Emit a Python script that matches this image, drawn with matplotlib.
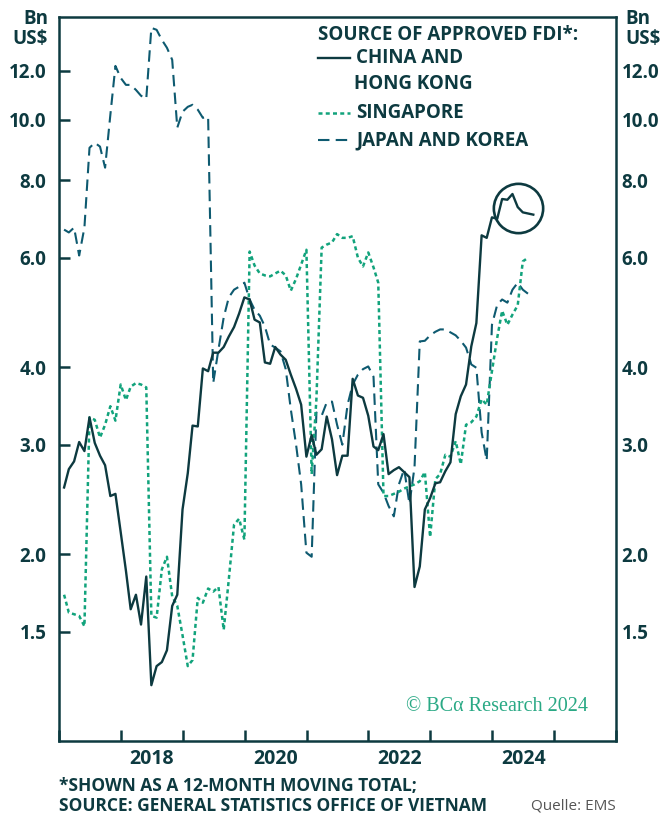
"""
Vietnam approved FDI by source, 12-month moving total (log scale)
"""
import matplotlib
matplotlib.use("Agg")
import matplotlib.pyplot as plt
import matplotlib.dates as mdates
from matplotlib.lines import Line2D
from matplotlib.ticker import FixedLocator, NullLocator
import pandas as pd

# data, Bn US$, monthly from Jan 2017
china_hk = [2.56, 2.74, 2.82, 3.03, 2.93, 3.32, 3.02, 2.88, 2.78, 2.48,
            2.50, 2.17, 1.88, 1.63, 1.72, 1.54, 1.84, 1.23, 1.32, 1.34,
            1.40, 1.65, 1.72, 2.36, 2.70, 3.22, 3.21, 3.98, 3.94, 4.22,
            4.22, 4.31, 4.48, 4.64, 4.88, 5.18, 5.14, 4.77, 4.72, 4.07,
            4.05, 4.31, 4.19, 4.11, 3.89, 3.69, 3.48, 2.87, 3.11, 2.89,
            2.95, 3.33, 3.06, 2.68, 2.88, 2.88, 3.83, 3.60, 3.57, 3.34,
            2.98, 2.94, 3.12, 2.69, 2.73, 2.76, 2.71, 2.66, 1.77, 1.91,
            2.36, 2.46, 2.60, 2.61, 2.72, 2.81, 3.36, 3.59, 3.75, 4.32,
            4.71, 6.52, 6.46, 6.97, 6.93, 7.46, 7.44, 7.60, 7.24, 7.10,
            7.07, 7.04]
singapore = [1.72, 1.61, 1.60, 1.59, 1.53, 3.32, 3.29, 3.08, 3.23, 3.46,
             3.28, 3.75, 3.54, 3.72, 3.77, 3.75, 3.71, 1.59, 1.58, 1.89,
             1.98, 1.71, 1.65, 1.48, 1.32, 1.35, 1.70, 1.67, 1.76, 1.74,
             1.77, 1.51, 1.82, 2.23, 2.28, 2.11, 6.14, 5.83, 5.66, 5.62,
             5.60, 5.66, 5.72, 5.62, 5.31, 5.55, 5.85, 6.18, 2.69, 3.55,
             6.23, 6.30, 6.35, 6.55, 6.46, 6.46, 6.50, 6.00, 5.81, 6.12,
             5.79, 5.47, 2.48, 2.48, 2.50, 2.52, 2.55, 2.57, 2.59, 2.62,
             2.71, 2.13, 2.64, 2.69, 2.89, 2.87, 3.04, 2.79, 3.23, 3.26,
             3.33, 3.55, 3.48, 3.94, 4.46, 4.93, 4.68, 4.86, 5.03, 5.92,
             6.00]
japan_korea = [6.66, 6.59, 6.71, 6.05, 6.71, 9.02, 9.19, 9.06, 8.38, 10.19,
               12.22, 11.69, 11.39, 11.39, 11.18, 10.94, 10.82, 14.07, 13.97, 13.46,
               13.07, 12.50, 9.72, 10.31, 10.50, 10.58, 10.39, 10.08, 10.12, 3.77,
               4.27, 4.81, 5.18, 5.33, 5.39, 5.47, 5.14, 4.95, 4.84, 4.65,
               4.35, 4.30, 4.24, 3.97, 3.42, 3.00, 2.59, 2.01, 1.98, 3.38,
               3.34, 3.51, 3.52, 3.23, 3.00, 3.48, 3.75, 3.89, 3.97, 4.01,
               3.86, 2.59, 2.51, 2.39, 2.30, 2.59, 2.74, 2.41, 2.76, 4.40,
               4.41, 4.50, 4.56, 4.60, 4.60, 4.55, 4.50, 4.41, 4.30, 4.04,
               3.99, 3.14, 2.83, 4.68, 5.04, 5.14, 5.08, 5.33, 5.47, 5.33,
               5.25]

y_ticks = [1.5, 2.0, 3.0, 4.0, 6.0, 8.0, 10.0, 12.0]
year_labels = [2018, 2020, 2022, 2024]

dark = "#0d3a40"
green = "#12a37c"
teal = "#0e5a70"

china_dates = pd.date_range("2017-01-31", periods=len(china_hk), freq="ME")
sing_dates = pd.date_range("2017-01-31", periods=len(singapore), freq="ME")
jk_dates = pd.date_range("2017-01-31", periods=len(japan_korea), freq="ME")

plt.rcParams["font.family"] = ["Open Sans", "DejaVu Sans"]

fig = plt.figure(figsize=(6.65, 8.17), dpi=100)
ax = fig.add_axes([59 / 665, 1 - 741 / 817, 557 / 665, 724 / 817])

ax.plot(jk_dates, japan_korea, color=teal, lw=1.5, linestyle=(0, (5.5, 3)))
ax.plot(sing_dates, singapore, color=green, lw=1.8, linestyle=(0, (1.6, 1.3)))
ax.plot(china_dates, china_hk, color=dark, lw=1.7)

# circle round the latest readings
ax.plot([pd.Timestamp("2024-06-01")], [7.22], marker="o", markersize=35.5,
        markerfacecolor="none", markeredgecolor=dark, markeredgewidth=1.9)

ax.set_yscale("log")
ax.set_ylim(1.0, 14.65)
ax.yaxis.set_major_locator(FixedLocator(y_ticks))
ax.yaxis.set_minor_locator(NullLocator())
ax.set_yticklabels([f"{v:.1f}" for v in y_ticks])

ax.set_xlim(pd.Timestamp("2017-01-01"), pd.Timestamp("2026-01-01"))
ax.xaxis.set_major_locator(mdates.YearLocator())
ax.xaxis.set_major_formatter(plt.NullFormatter())
ax.xaxis.set_minor_locator(FixedLocator(
    [mdates.date2num(pd.Timestamp(f"{y}-07-02")) for y in year_labels]))
ax.xaxis.set_minor_formatter(plt.FixedFormatter([str(y) for y in year_labels]))

for s in ax.spines.values():
    s.set_color(dark)
    s.set_linewidth(1.8)

ax.tick_params(axis="y", which="major", direction="in", length=8, width=1.8,
               color=dark, labelcolor=dark, left=True, right=True,
               labelleft=True, labelright=False, pad=9)
ax.tick_params(axis="x", which="major", direction="in", length=8, width=1.8,
               color=dark)
ax.tick_params(axis="x", which="minor", length=0, pad=6, labelcolor=dark)
for lab in ax.get_yticklabels():
    lab.set_fontsize(13.5)
    lab.set_fontweight("bold")
for lab in ax.get_xticklabels(minor=True):
    lab.set_fontsize(14)
    lab.set_fontweight("bold")

# right hand labels
ax2 = ax.twinx()
ax2.set_yscale("log")
ax2.set_ylim(ax.get_ylim())
ax2.yaxis.set_major_locator(FixedLocator(y_ticks))
ax2.yaxis.set_minor_locator(NullLocator())
ax2.set_yticklabels([f"{v:.1f}" for v in y_ticks], fontsize=13.5,
                    fontweight="bold", color=dark)
ax2.tick_params(axis="y", length=0, pad=4)
for s in ax2.spines.values():
    s.set_visible(False)

fig.text(48 / 665, 1 - 9 / 817, "Bn\nUS$", ha="right", va="top",
         fontsize=13.5, fontweight="bold", color=dark, linespacing=1.0)
fig.text(625 / 665, 1 - 9 / 817, "Bn\nUS$", ha="left", va="top",
         fontsize=13.5, fontweight="bold", color=dark, linespacing=1.0)

# legend
fig.text(318 / 665, 1 - 35 / 817, "SOURCE OF APPROVED FDI*:", ha="left",
         va="center", fontsize=13.5, fontweight="bold", color=dark)
leg_items = [
    ("CHINA AND", 58, dict(color=dark, lw=1.7)),
    ("SINGAPORE", 113, dict(color=green, lw=1.8, linestyle=(0, (1.6, 1.3)))),
    ("JAPAN AND KOREA", 140, dict(color=teal, lw=1.5, linestyle=(0, (5.5, 3)))),
]
for label, ypx, style in leg_items:
    yf = 1 - ypx / 817
    fig.add_artist(Line2D([318 / 665, 350 / 665], [yf, yf], **style))
    fig.text(356 / 665, yf, label, ha="left", va="center", fontsize=13.5,
             fontweight="bold", color=dark)
fig.text(354 / 665, 1 - 84 / 817, "HONG KONG", ha="left", va="center",
         fontsize=13.5, fontweight="bold", color=dark)

ax.text(0.95, 0.048, "\u00a9 BC\u03b1 Research 2024", transform=ax.transAxes,
        ha="right", va="center", fontsize=14.5, color="#2aa985",
        family=["Liberation Serif", "DejaVu Serif"])

fig.text(59 / 665, 1 - 786 / 817, "*SHOWN AS A 12-MONTH MOVING TOTAL;",
         ha="left", va="center", fontsize=12.5, fontweight="bold", color=dark)
fig.text(59 / 665, 1 - 806 / 817, "SOURCE: GENERAL STATISTICS OFFICE OF VIETNAM",
         ha="left", va="center", fontsize=12.5, fontweight="bold", color=dark)
fig.text(616 / 665, 1 - 806 / 817, "Quelle: EMS", ha="right", va="center",
         fontsize=11, color="#555555")

fig.savefig("out.png", dpi=100)
